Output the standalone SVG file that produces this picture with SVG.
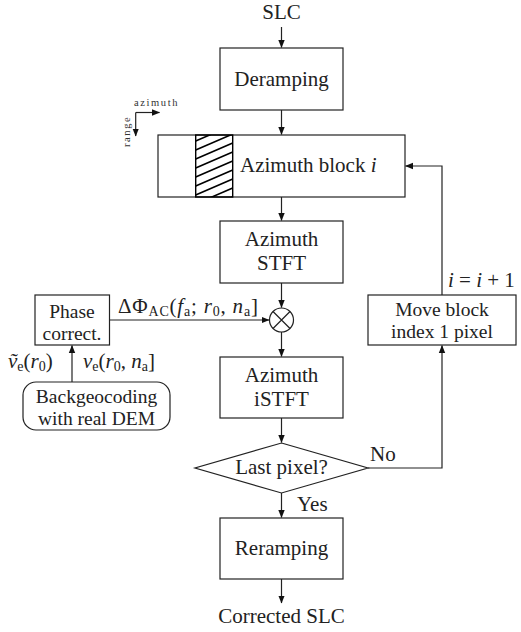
<svg xmlns="http://www.w3.org/2000/svg" width="521" height="632" viewBox="0 0 521 632">
<style>
.t{font-family:"Liberation Serif","Times New Roman",serif;font-size:21px;fill:#222}
.t2{font-size:19.5px}
.c{text-anchor:middle}
.i{font-style:italic}
.s{font-size:14px}
.sm{font-family:"Liberation Serif",serif;font-size:10.5px;letter-spacing:1.6px;fill:#333}
.box{fill:#fff;stroke:#222;stroke-width:1.2}
.ln{fill:none;stroke:#222;stroke-width:1.2}
.h{stroke:#000;stroke-width:1.6}
</style>
<defs>
<marker id="ah" viewBox="0 0 8 8" refX="7.5" refY="4" markerWidth="8" markerHeight="8" markerUnits="userSpaceOnUse" orient="auto">
<path d="M0,0.8 L8,4 L0,7.2 Z" fill="#111"/>
</marker>
<clipPath id="hc"><rect x="195.7" y="135" width="37" height="62"/></clipPath>
</defs>

<g id="connectors">
<path class="ln" d="M281.5,27 V47.5" marker-end="url(#ah)"/>
<path class="ln" d="M281.5,110 V134.5" marker-end="url(#ah)"/>
<path class="ln" d="M281.5,197 V220.5" marker-end="url(#ah)"/>
<path class="ln" d="M281.5,283 V307.5" marker-end="url(#ah)"/>
<path class="ln" d="M109.5,320 H269" marker-end="url(#ah)"/>
<path class="ln" d="M281.5,332 V356.5" marker-end="url(#ah)"/>
<path class="ln" d="M281.5,418 V442.5" marker-end="url(#ah)"/>
<path class="ln" d="M281.5,493 V517.5" marker-end="url(#ah)"/>
<path class="ln" d="M281.5,579 V603" marker-end="url(#ah)"/>
<path class="ln" d="M368,468 H442 V345.5" marker-end="url(#ah)"/>
<path class="ln" d="M442,295 V166 H405.5" marker-end="url(#ah)"/>
<path class="ln" d="M72,382 V345.5" marker-end="url(#ah)"/>
<text class="t" x="370" y="461">No</text>
<text class="t" x="297" y="511">Yes</text>
<text class="t i" x="448" y="287">i <tspan font-style="normal">=</tspan> i <tspan font-style="normal">+ 1</tspan></text>
<text class="t" x="118" y="313" letter-spacing="0.8">ΔΦ<tspan class="s" dy="3">AC</tspan><tspan dy="-3">(</tspan><tspan class="i">f</tspan><tspan class="s" dy="3">a</tspan><tspan dy="-3">; </tspan><tspan class="i">r</tspan><tspan class="s" dy="3">0</tspan><tspan dy="-3">, </tspan><tspan class="i">n</tspan><tspan class="s" dy="3">a</tspan><tspan dy="-3">]</tspan></text>
<text class="t" x="8" y="368"><tspan class="i">ṽ</tspan><tspan class="s" dy="3">e</tspan><tspan dy="-3">(</tspan><tspan class="i">r</tspan><tspan class="s" dy="3">0</tspan><tspan dy="-3">)</tspan></text>
<text class="t" x="83" y="368"><tspan class="i">v</tspan><tspan class="s" dy="3">e</tspan><tspan dy="-3">(</tspan><tspan class="i">r</tspan><tspan class="s" dy="3">0</tspan><tspan dy="-3">, </tspan><tspan class="i">n</tspan><tspan class="s" dy="3">a</tspan><tspan dy="-3">]</tspan></text>
</g>

<g id="slc"><text class="t c" x="281.5" y="19">SLC</text></g>

<g id="deramping">
<rect class="box" x="220" y="48" width="123" height="62"/>
<text class="t c" x="281.5" y="86">Deramping</text>
</g>

<g id="axes">
<path class="ln" d="M135.7,112.5 H159.5" marker-end="url(#ah)"/>
<path class="ln" d="M135.7,112.5 V136" marker-end="url(#ah)"/>
<text class="sm" x="134" y="106">azimuth</text>
<text class="sm" transform="translate(130,147) rotate(-90)">range</text>
</g>

<g id="block">
<rect class="box" x="158" y="135" width="247" height="62"/>
<g clip-path="url(#hc)">
<line class="h" x1="195.7" y1="141" x2="232.7" y2="125"/>
<line class="h" x1="195.7" y1="150" x2="232.7" y2="134"/>
<line class="h" x1="195.7" y1="159" x2="232.7" y2="143"/>
<line class="h" x1="195.7" y1="168" x2="232.7" y2="152"/>
<line class="h" x1="195.7" y1="177" x2="232.7" y2="161"/>
<line class="h" x1="195.7" y1="186" x2="232.7" y2="170"/>
<line class="h" x1="195.7" y1="195" x2="232.7" y2="179"/>
<line class="h" x1="195.7" y1="204" x2="232.7" y2="188"/>
<line class="h" x1="195.7" y1="213" x2="232.7" y2="197"/>
</g>
<rect x="195.7" y="135" width="37" height="62" fill="none" stroke="#000" stroke-width="1.4"/>
<text class="t" x="240" y="172">Azimuth block <tspan class="i">i</tspan></text>
</g>

<g id="stft">
<rect class="box" x="220" y="221" width="123" height="62"/>
<text class="t c" x="281.5" y="246">Azimuth</text>
<text class="t c" x="281.5" y="270">STFT</text>
</g>

<g id="multiply">
<circle class="box" cx="281.5" cy="320" r="12"/>
<path class="ln" d="M273,311.5 L290,328.5 M290,311.5 L273,328.5"/>
</g>

<g id="phase">
<rect class="box" x="35" y="295" width="74.5" height="50"/>
<text class="t t2 c" x="72" y="317.5">Phase</text>
<text class="t t2 c" x="72" y="339.5">correct.</text>
</g>

<g id="backgeo">
<rect class="box" x="23" y="382" width="147" height="48" rx="13"/>
<text class="t t2 c" x="96.5" y="402.5">Backgeocoding</text>
<text class="t t2 c" x="96.5" y="424.5">with real DEM</text>
</g>

<g id="istft">
<rect class="box" x="220" y="357" width="123" height="61"/>
<text class="t c" x="281.5" y="382">Azimuth</text>
<text class="t c" x="281.5" y="406">iSTFT</text>
</g>

<g id="decision">
<polygon class="box" points="281.5,443 368,468 281.5,493 195,468"/>
<text class="t c" x="281.5" y="474">Last pixel?</text>
</g>

<g id="move">
<rect class="box" x="368" y="295" width="148" height="50"/>
<text class="t t2 c" x="442" y="315.5">Move block</text>
<text class="t t2 c" x="442" y="337.5">index 1 pixel</text>
</g>

<g id="reramping">
<rect class="box" x="220" y="518" width="123" height="61"/>
<text class="t c" x="281.5" y="555">Reramping</text>
</g>

<g id="corrected"><text class="t c" x="281.5" y="623">Corrected SLC</text></g>
</svg>
